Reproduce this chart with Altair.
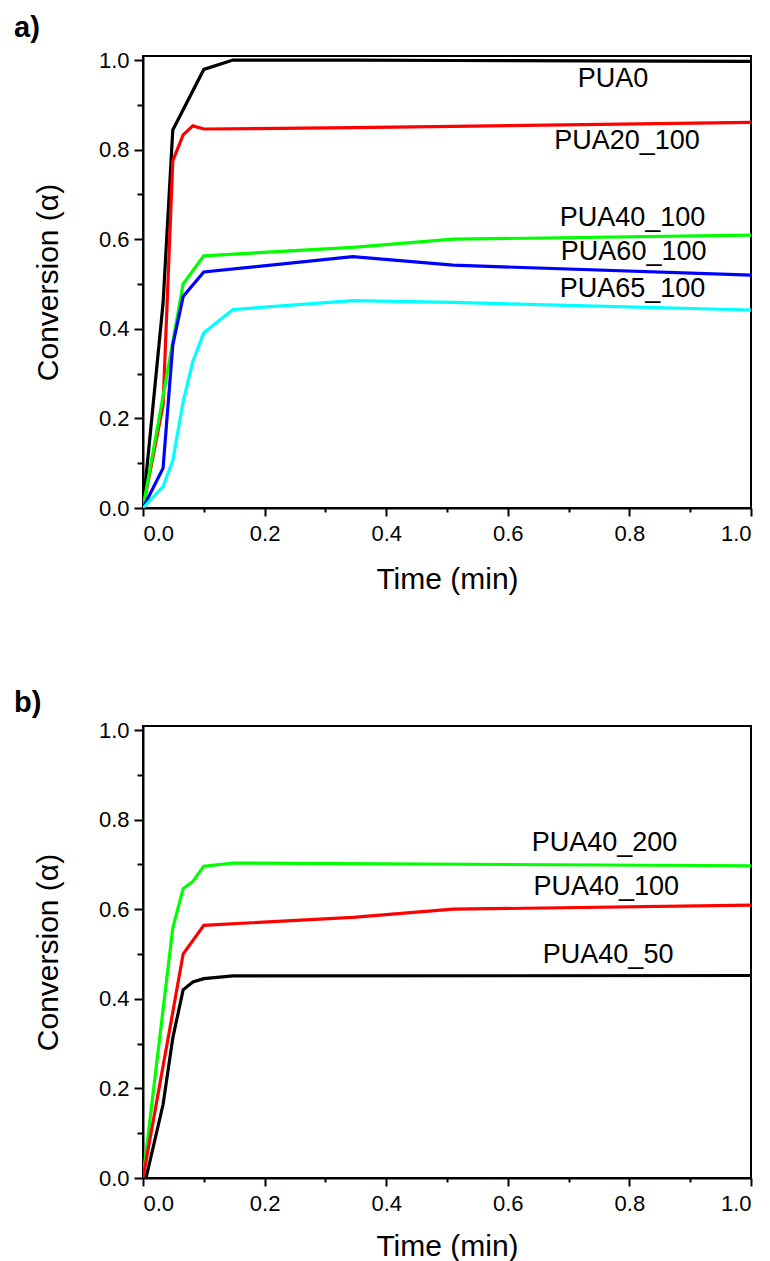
import altair as alt
import pandas as pd

FONT = "Liberation Sans"

# ---------------- Panel a) ----------------
a_names = ["PUA0", "PUA20_100", "PUA40_100", "PUA60_100", "PUA65_100"]
a_colors = ["#000000", "#ff0000", "#00ff00", "#0000ff", "#00ffff"]

pua0_t = [0, 0.033, 0.049, 0.1, 0.148, 0.345, 0.51, 1.0]
pua0_y = [0, 0.457, 0.844, 0.979, 1.0, 1.0, 0.999, 0.997]

pua20_t = [0, 0.033, 0.049, 0.066, 0.082, 0.1, 0.345, 0.51, 1.0]
pua20_y = [0, 0.23, 0.775, 0.833, 0.853, 0.846, 0.849, 0.852, 0.861]

pua40_t = [0, 0.033, 0.049, 0.066, 0.1, 0.345, 0.51, 1.0]
pua40_y = [0, 0.25, 0.37, 0.50, 0.563, 0.582, 0.600, 0.609]

pua60_t = [0, 0.033, 0.049, 0.066, 0.1, 0.345, 0.51, 1.0]
pua60_y = [0, 0.089, 0.364, 0.472, 0.527, 0.561, 0.542, 0.520]

pua65_t = [0, 0.033, 0.049, 0.066, 0.082, 0.1, 0.148, 0.345, 0.51, 1.0]
pua65_y = [0, 0.048, 0.106, 0.237, 0.327, 0.391, 0.443, 0.463, 0.459, 0.442]

a_label_t = [0.773, 0.796, 0.805, 0.807, 0.805]
a_label_y = [0.958, 0.820, 0.647, 0.572, 0.488]

# ---------------- Panel b) ----------------
b_names = ["PUA40_200", "PUA40_100", "PUA40_50"]
b_colors = ["#00ff00", "#ff0000", "#000000"]

pua40_200_t = [0, 0.049, 0.066, 0.082, 0.1, 0.148, 1.0]
pua40_200_y = [0, 0.558, 0.646, 0.662, 0.696, 0.703, 0.697]

pua40_100_t = [0, 0.033, 0.049, 0.066, 0.1, 0.345, 0.51, 1.0]
pua40_100_y = [0, 0.25, 0.37, 0.50, 0.564, 0.582, 0.600, 0.609]

pua40_50_t = [0.005, 0.033, 0.049, 0.066, 0.082, 0.1, 0.148, 1.0]
pua40_50_y = [0, 0.164, 0.3125, 0.42, 0.4375, 0.445, 0.451, 0.452]

b_label_t = [0.759, 0.762, 0.765]
b_label_y = [0.748, 0.650, 0.498]

x_ticks = [0, 0.1, 0.2, 0.3, 0.4, 0.5, 0.6, 0.7, 0.8, 0.9, 1.0]
y_ticks = [0, 0.1, 0.2, 0.3, 0.4, 0.5, 0.6, 0.7, 0.8, 0.9, 1.0]


def long_df(names, ts, ys):
    rows = []
    for n, tt, yy in zip(names, ts, ys):
        for t, y in zip(tt, yy):
            rows.append({"series": n, "t": t, "alpha": y})
    return pd.DataFrame(rows)


major_test = "round(datum.value * 10) % 2 == 0"


def panel(df, names, colors, lab_t, lab_y, tag, tag_y, x_title_pad):
    xs = alt.Scale(domain=[0, 1], nice=False, zero=False)
    ys = alt.Scale(domain=[0, 1.009], nice=False, zero=False)
    x_axis = alt.Axis(
        values=x_ticks,
        labelExpr=f"{major_test} ? format(datum.value, '.1f') : ''",
        tickSize={"condition": {"test": major_test, "value": 8}, "value": 4},
        title="Time (min)",
        labelPadding=7,
        titlePadding=x_title_pad,
        grid=False,
    )
    y_axis = alt.Axis(
        values=y_ticks,
        labelExpr=f"{major_test} ? format(datum.value, '.1f') : ''",
        tickSize={"condition": {"test": major_test, "value": 9}, "value": 6},
        title="Conversion (α)",
        labelPadding=5,
        titlePadding=35,
        grid=False,
    )
    lines = alt.Chart(df).mark_line(strokeWidth=3.2, clip=True).encode(
        x=alt.X("t:Q", scale=xs, axis=x_axis),
        y=alt.Y("alpha:Q", scale=ys, axis=y_axis),
        color=alt.Color("series:N", scale=alt.Scale(domain=names, range=colors), legend=None),
        order=alt.Order("t:Q"),
    )
    lab_df = pd.DataFrame({"label": names, "t": lab_t, "alpha": lab_y})
    labels = alt.Chart(lab_df).mark_text(
        fontSize=27, font=FONT, color="black", align="center", baseline="middle"
    ).encode(
        x=alt.X("t:Q", scale=xs),
        y=alt.Y("alpha:Q", scale=ys),
        text="label:N",
    )
    tag_df = pd.DataFrame({"tag": [tag]})
    tagm = alt.Chart(tag_df).mark_text(
        fontSize=29, font=FONT, fontWeight="bold", align="left", baseline="alphabetic", color="black"
    ).encode(
        x=alt.value(-129),
        y=alt.value(tag_y),
        text="tag:N",
    )
    return alt.layer(lines, labels, tagm).properties(width=608, height=452)


df_a = long_df(a_names, [pua0_t, pua20_t, pua40_t, pua60_t, pua65_t],
               [pua0_y, pua20_y, pua40_y, pua60_y, pua65_y])
df_b = long_df(b_names, [pua40_200_t, pua40_100_t, pua40_50_t],
               [pua40_200_y, pua40_100_y, pua40_50_y])

top = panel(df_a, a_names, a_colors, a_label_t, a_label_y, "a)", -19, 20)
bottom = panel(df_b, b_names, b_colors, b_label_t, b_label_y, "b)", -14, 17)

chart = alt.vconcat(top, bottom, spacing=93, padding=5).resolve_scale(
    color="independent"
).configure_view(
    stroke="black", strokeWidth=2
).configure_axis(
    domainColor="black", domainWidth=2, tickColor="black", tickWidth=2,
    labelFont=FONT, labelFontSize=22, labelColor="black",
    titleFont=FONT, titleFontSize=30, titleFontWeight="normal", titleColor="black",
)

chart.save("out.html", embed_options={"renderer": "svg", "actions": False})
